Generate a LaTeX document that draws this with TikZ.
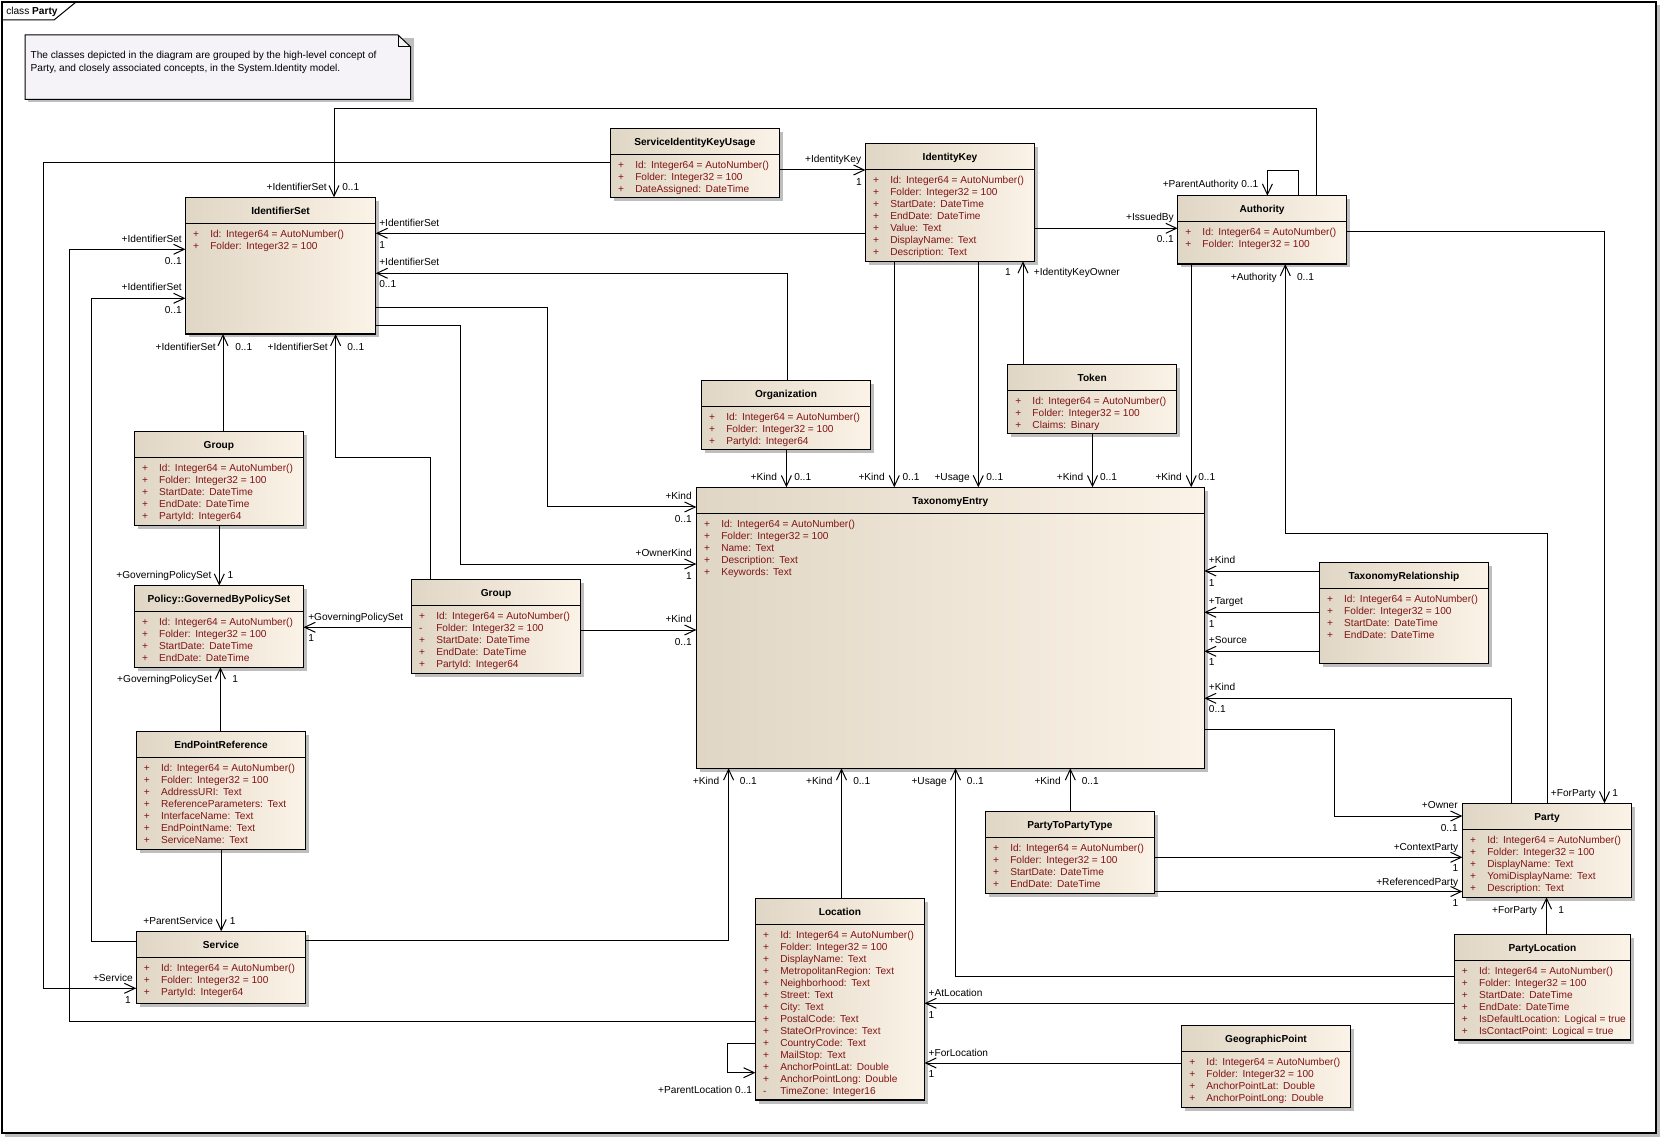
\documentclass[tikz,border=0pt]{standalone}
\usepackage{fontspec}
\setmainfont{Liberation Sans}
\usetikzlibrary{arrows.meta}
\definecolor{clsL}{RGB}{224,214,197}
\definecolor{clsR}{RGB}{251,243,231}
\definecolor{attc}{RGB}{130,20,20}
\definecolor{shd}{RGB}{190,190,190}
\definecolor{notec}{RGB}{245,243,248}
\newcommand\dfont{\fontsize{7.6}{9}\selectfont}
\newcommand\atsp{:\hspace{0.45em}}
\newcounter{labc}
\newcommand\plab[4]{\stepcounter{labc}\node[lbl,anchor=#1] (lab\arabic{labc}) at (#2,{#3+3.5}) {#4};}
\newcommand\umlclass[8]{%
  \fill[shd] ({#2+3.5},{#3+3.5}) rectangle ({#4+3.5},{#5+3.5});
  \node[clsbox, minimum width={(#4-#2)*0.75pt}, minimum height={(#5-#3)*0.75pt}] (#1) at (#2,#3) {};
  \draw[line width=0.9pt] (#2,#6) -- (#4,#6);
  \node[ttl] (#1-t) at ({(#2+#4)/2},{(#3+#6)/2+4}) {#7};
  \foreach \asym/\aname [count=\ai from 0] in {#8} {
    \node[att] (#1-s\ai) at ({#2+7.5},{#6+13.8+12*\ai}) {\asym};
    \node[att] (#1-a\ai) at ({#2+24.6},{#6+13.8+12*\ai}) {\aname};
  }%
}
\begin{document}
\begin{tikzpicture}[x=0.75pt,y=-0.75pt,
  clsbox/.style={draw, line width=0.9pt, anchor=north west, inner sep=0, outer sep=0, left color=clsL, right color=clsR},
  ttl/.style={anchor=base, inner sep=0, font=\dfont\bfseries},
  att/.style={anchor=base west, inner sep=0, font=\dfont, text=attc},
  lbl/.style={inner sep=0, font=\dfont},
  assoc/.style={draw, line width=0.75pt, -{Straight Barb[length=8pt,width=7.5pt]}}]
\useasboundingbox (0,0) rectangle (1661,1137);
% frame
\fill[shd] (5,5) rectangle (1659.5,1136.5);
\draw[line width=0.9pt, fill=white] (2,2) rectangle (1656,1133);
\draw[line width=0.75pt] (2,20) -- (54,20) -- (76,2);
\node[lbl, anchor=base west] (frametitle) at (6,14.5) {class \textbf{Party}};
% note
\fill[shd] (28,38) rectangle (414,102.5);
\draw[line width=0.75pt, fill=notec] (25,35) -- (398,35) -- (410.7,47) -- (410.7,99.3) -- (25,99.3) -- cycle;
\draw[line width=0.75pt] (398,35) -- (398,47) -- (410.7,47);
\node[lbl, anchor=base west, align=left] (note) at (30.4,58.5) {The classes depicted in the diagram are grouped by the high-level concept of};
\node[lbl, anchor=base west] (note2) at (30.4,71.2) {Party, and closely associated concepts, in the System.Identity model.};
% classes
\umlclass{idset}{185.4}{197.3}{375.7}{334}{223.3}{IdentifierSet}{+/Id\atsp Integer64 = AutoNumber(), +/Folder\atsp Integer32 = 100}
\umlclass{siku}{610.4}{128.3}{779.3}{197.3}{154.3}{ServiceIdentityKeyUsage}{+/Id\atsp Integer64 = AutoNumber(), +/Folder\atsp Integer32 = 100, +/DateAssigned\atsp DateTime}
\umlclass{idkey}{865.4}{143.3}{1034.6}{261.3}{169.3}{IdentityKey}{+/Id\atsp Integer64 = AutoNumber(), +/Folder\atsp Integer32 = 100, +/StartDate\atsp DateTime, +/EndDate\atsp DateTime, +/Value\atsp Text, +/DisplayName\atsp Text, +/Description\atsp Text}
\umlclass{auth}{1177.6}{195.7}{1346.5}{264}{221.3}{Authority}{+/Id\atsp Integer64 = AutoNumber(), +/Folder\atsp Integer32 = 100}
\umlclass{group1}{134.3}{431.3}{303.5}{525.3}{457.3}{Group}{+/Id\atsp Integer64 = AutoNumber(), +/Folder\atsp Integer32 = 100, +/StartDate\atsp DateTime, +/EndDate\atsp DateTime, +/PartyId\atsp Integer64}
\umlclass{policy}{134.3}{585.7}{303.5}{667.3}{611.7}{Policy::GovernedByPolicySet}{+/Id\atsp Integer64 = AutoNumber(), +/Folder\atsp Integer32 = 100, +/StartDate\atsp DateTime, +/EndDate\atsp DateTime}
\umlclass{group2}{411.4}{579.3}{580.6}{673.3}{605.7}{Group}{+/Id\atsp Integer64 = AutoNumber(), -/Folder\atsp Integer32 = 100, +/StartDate\atsp DateTime, +/EndDate\atsp DateTime, +/PartyId\atsp Integer64}
\umlclass{org}{701.4}{380.7}{870.6}{449.3}{406.3}{Organization}{+/Id\atsp Integer64 = AutoNumber(), +/Folder\atsp Integer32 = 100, +/PartyId\atsp Integer64}
\umlclass{token}{1007.6}{364.3}{1176.7}{433.3}{390.3}{Token}{+/Id\atsp Integer64 = AutoNumber(), +/Folder\atsp Integer32 = 100, +/Claims\atsp Binary}
\umlclass{te}{696.4}{487.3}{1204.3}{768.3}{513.3}{TaxonomyEntry}{+/Id\atsp Integer64 = AutoNumber(), +/Folder\atsp Integer32 = 100, +/Name\atsp Text, +/Description\atsp Text, +/Keywords\atsp Text}
\umlclass{trel}{1319.3}{562.3}{1488.7}{663.3}{588.3}{TaxonomyRelationship}{+/Id\atsp Integer64 = AutoNumber(), +/Folder\atsp Integer32 = 100, +/StartDate\atsp DateTime, +/EndDate\atsp DateTime}
\umlclass{epr}{136.2}{731.3}{305.8}{849.3}{757.7}{EndPointReference}{+/Id\atsp Integer64 = AutoNumber(), +/Folder\atsp Integer32 = 100, +/AddressURI\atsp Text, +/ReferenceParameters\atsp Text, +/InterfaceName\atsp Text, +/EndPointName\atsp Text, +/ServiceName\atsp Text}
\umlclass{service}{136.2}{931.3}{305.8}{1003.3}{957.3}{Service}{+/Id\atsp Integer64 = AutoNumber(), +/Folder\atsp Integer32 = 100, +/PartyId\atsp Integer64}
\umlclass{ptpt}{985.4}{811.3}{1154.5}{893.3}{837.7}{PartyToPartyType}{+/Id\atsp Integer64 = AutoNumber(), +/Folder\atsp Integer32 = 100, +/StartDate\atsp DateTime, +/EndDate\atsp DateTime}
\umlclass{loc}{755.4}{898.7}{924.5}{1100}{924.3}{Location}{+/Id\atsp Integer64 = AutoNumber(), +/Folder\atsp Integer32 = 100, +/DisplayName\atsp Text, +/MetropolitanRegion\atsp Text, +/Neighborhood\atsp Text, +/Street\atsp Text, +/City\atsp Text, +/PostalCode\atsp Text, +/StateOrProvince\atsp Text, +/CountryCode\atsp Text, +/MailStop\atsp Text, +/AnchorPointLat\atsp Double, +/AnchorPointLong\atsp Double, -/TimeZone\atsp Integer16}
\umlclass{party}{1462.4}{803.3}{1631.7}{897.3}{829.3}{Party}{+/Id\atsp Integer64 = AutoNumber(), +/Folder\atsp Integer32 = 100, +/DisplayName\atsp Text, +/YomiDisplayName\atsp Text, +/Description\atsp Text}
\umlclass{ploc}{1454.2}{934.7}{1630.6}{1040}{960.3}{PartyLocation}{+/Id\atsp Integer64 = AutoNumber(), +/Folder\atsp Integer32 = 100, +/StartDate\atsp DateTime, +/EndDate\atsp DateTime, +/IsDefaultLocation\atsp Logical = true, +/IsContactPoint\atsp Logical = true}
\umlclass{geo}{1181.6}{1025.7}{1350.4}{1107.3}{1051.7}{GeographicPoint}{+/Id\atsp Integer64 = AutoNumber(), +/Folder\atsp Integer32 = 100, +/AnchorPointLat\atsp Double, +/AnchorPointLong\atsp Double}
% connectors
\draw[assoc] (1316.5,0 |- auth.north) |- (334,108.3) -- (334,0 |- idset.north);
\draw[assoc] (siku.west |- 0,162.3) -| (43,988.3) -- (service.west |- 0,988.3);
\draw[assoc] (siku.east |- 0,170) -- (idkey.west |- 0,170);
\draw[assoc] (idkey.west |- 0,233.3) -- (idset.east |- 0,233.3);
\draw[assoc] (787.5,0 |- org.north) |- (idset.east |- 0,273.3);
\draw[assoc] (idkey.east |- 0,228.3) -- (auth.west |- 0,228.3);
\draw[assoc] (1298.6,0 |- auth.north) |- (1267.4,171) -- (1267.4,0 |- auth.north);
\draw[assoc] (auth.east |- 0,231.7) -| (1604.5,0 |- party.north);
\draw[assoc] (1191.2,0 |- auth.south) -- (1191.2,0 |- te.north);
\draw[assoc] (1547.2,0 |- party.north) |- (1285.3,534) -- (1285.3,0 |- auth.south);
\draw[assoc] (894.3,0 |- idkey.south) -- (894.3,0 |- te.north);
\draw[assoc] (978.3,0 |- idkey.south) -- (978.3,0 |- te.north);
\draw[assoc] (1023,0 |- token.north) -- (1023,0 |- idkey.south);
\draw[assoc] (1092.5,0 |- token.south) -- (1092.5,0 |- te.north);
\draw[assoc] (786.4,0 |- org.south) -- (786.4,0 |- te.north);
\draw[assoc] (idset.east |- 0,307.3) -| (547.3,507) -- (te.west |- 0,507);
\draw[assoc] (idset.east |- 0,325.7) -| (460.4,564) -- (te.west |- 0,564);
\draw[assoc] (group2.east |- 0,630) -- (te.west |- 0,630);
\draw[assoc] (223,0 |- group1.north) -- (223,0 |- idset.south);
\draw[assoc] (430.5,0 |- group2.north) |- (335.6,457.3) -- (335.6,0 |- idset.south);
\draw[assoc] (loc.west |- 0,1021) -| (69.3,249.3) -- (idset.west |- 0,249.3);
\draw[assoc] (service.west |- 0,941.3) -| (91.1,298.3) -- (idset.west |- 0,298.3);
\draw[assoc] (219.3,0 |- group1.south) -- (219.3,0 |- policy.north);
\draw[assoc] (group2.west |- 0,627.3) -- (policy.east |- 0,627.3);
\draw[assoc] (220.4,0 |- epr.north) -- (220.4,0 |- policy.south);
\draw[assoc] (221.2,0 |- epr.south) -- (221.2,0 |- service.north);
\draw[assoc] (service.east |- 0,940.3) -| (728.6,0 |- te.south);
\draw[assoc] (841.5,0 |- loc.north) -- (841.5,0 |- te.south);
\draw[assoc] (ploc.west |- 0,976.3) -| (955.5,0 |- te.south);
\draw[assoc] (1070.3,0 |- ptpt.north) -- (1070.3,0 |- te.south);
\draw[assoc] (te.east |- 0,729.3) -| (1334.3,816) -- (party.west |- 0,816);
\draw[assoc] (1511.4,0 |- party.north) |- (te.east |- 0,698.3);
\draw[assoc] (trel.west |- 0,571) -- (te.east |- 0,571);
\draw[assoc] (trel.west |- 0,612.3) -- (te.east |- 0,612.3);
\draw[assoc] (trel.west |- 0,651.3) -- (te.east |- 0,651.3);
\draw[assoc] (ptpt.east |- 0,857.3) -- (party.west |- 0,857.3);
\draw[assoc] (ptpt.east |- 0,891.5) -- (party.west |- 0,891.5);
\draw[assoc] (1546.5,0 |- ploc.north) -- (1546.5,0 |- party.south);
\draw[assoc] (ploc.west |- 0,1003.3) -- (loc.east |- 0,1003.3);
\draw[assoc] (geo.west |- 0,1063) -- (loc.east |- 0,1063);
\draw[assoc] (loc.west |- 0,1043.3) -| (727.4,1072.7) -- (loc.west |- 0,1072.7);
% labels
\plab{base east}{327}{186.7}{+IdentifierSet}\plab{base west}{342}{186.7}{0..1}
\plab{base east}{133}{977.7}{+Service}\plab{base east}{131}{1000}{1}
\plab{base east}{861.4}{159.3}{+IdentityKey}\plab{base east}{862}{181.7}{1}
\plab{base west}{379}{222.7}{+IdentifierSet}\plab{base west}{379}{245}{1}
\plab{base west}{379}{262.3}{+IdentifierSet}\plab{base west}{379}{284.3}{0..1}
\plab{base east}{1174}{217.3}{+IssuedBy}\plab{base east}{1174}{239.3}{0..1}
\plab{base east}{1258.5}{184.3}{+ParentAuthority 0..1}
\plab{base east}{1596}{792.7}{+ForParty}\plab{base west}{1612}{792.7}{1}
\plab{base east}{1182}{476.7}{+Kind}\plab{base west}{1198}{476.7}{0..1}
\plab{base east}{1277}{276.7}{+Authority}\plab{base west}{1296.8}{276.7}{0..1}
\plab{base east}{885}{476.7}{+Kind}\plab{base west}{902.3}{476.7}{0..1}
\plab{base east}{970}{476.7}{+Usage}\plab{base west}{986}{476.7}{0..1}
\plab{base east}{1011}{271.7}{1}\plab{base west}{1033.6}{271.7}{+IdentityKeyOwner}
\plab{base east}{1083.4}{476.7}{+Kind}\plab{base west}{1099.8}{476.7}{0..1}
\plab{base east}{777.2}{476.7}{+Kind}\plab{base west}{794}{476.7}{0..1}
\plab{base east}{692}{496.3}{+Kind}\plab{base east}{692}{518.7}{0..1}
\plab{base east}{692}{553}{+OwnerKind}\plab{base east}{692}{576.3}{1}
\plab{base east}{692}{619.3}{+Kind}\plab{base east}{692}{642}{0..1}
\plab{base east}{216}{346.7}{+IdentifierSet}\plab{base west}{235}{346.7}{0..1}
\plab{base east}{328}{346.7}{+IdentifierSet}\plab{base west}{347}{346.7}{0..1}
\plab{base east}{182}{238.7}{+IdentifierSet}\plab{base east}{182}{260.7}{0..1}
\plab{base east}{182}{287.3}{+IdentifierSet}\plab{base east}{182}{309.7}{0..1}
\plab{base east}{211.6}{574.7}{+GoverningPolicySet}\plab{base west}{227.3}{574.7}{1}
\plab{base west}{308}{616.7}{+GoverningPolicySet}\plab{base west}{308}{638.3}{1}
\plab{base east}{212.4}{679.3}{+GoverningPolicySet}\plab{base west}{232}{679.3}{1}
\plab{base east}{213.2}{920.7}{+ParentService}\plab{base west}{229.6}{920.7}{1}
\plab{base east}{719.4}{780.7}{+Kind}\plab{base west}{739.7}{780.7}{0..1}
\plab{base east}{832.7}{780.7}{+Kind}\plab{base west}{853}{780.7}{0..1}
\plab{base east}{947}{780.7}{+Usage}\plab{base west}{966.6}{780.7}{0..1}
\plab{base east}{1061}{780.7}{+Kind}\plab{base west}{1081.5}{780.7}{0..1}
\plab{base east}{1458}{805.3}{+Owner}\plab{base east}{1458}{827.7}{0..1}
\plab{base west}{1208.7}{687.3}{+Kind}\plab{base west}{1208.7}{709.3}{0..1}
\plab{base west}{1208.7}{560.3}{+Kind}\plab{base west}{1208.7}{582.7}{1}
\plab{base west}{1208.7}{601.3}{+Target}\plab{base west}{1208.7}{623.7}{1}
\plab{base west}{1208.7}{640.3}{+Source}\plab{base west}{1208.7}{662.3}{1}
\plab{base east}{1458.5}{846.7}{+ContextParty}\plab{base east}{1458.5}{868.3}{1}
\plab{base east}{1458.5}{881.7}{+ReferencedParty}\plab{base east}{1458.5}{903.3}{1}
\plab{base east}{1537.2}{909.7}{+ForParty}\plab{base west}{1558}{909.7}{1}
\plab{base west}{928.4}{992.7}{+AtLocation}\plab{base west}{928.4}{1015}{1}
\plab{base west}{928.4}{1052.7}{+ForLocation}\plab{base west}{928.4}{1074.3}{1}
\plab{base east}{752.3}{1089.7}{+ParentLocation 0..1}
\end{tikzpicture}
\end{document}
